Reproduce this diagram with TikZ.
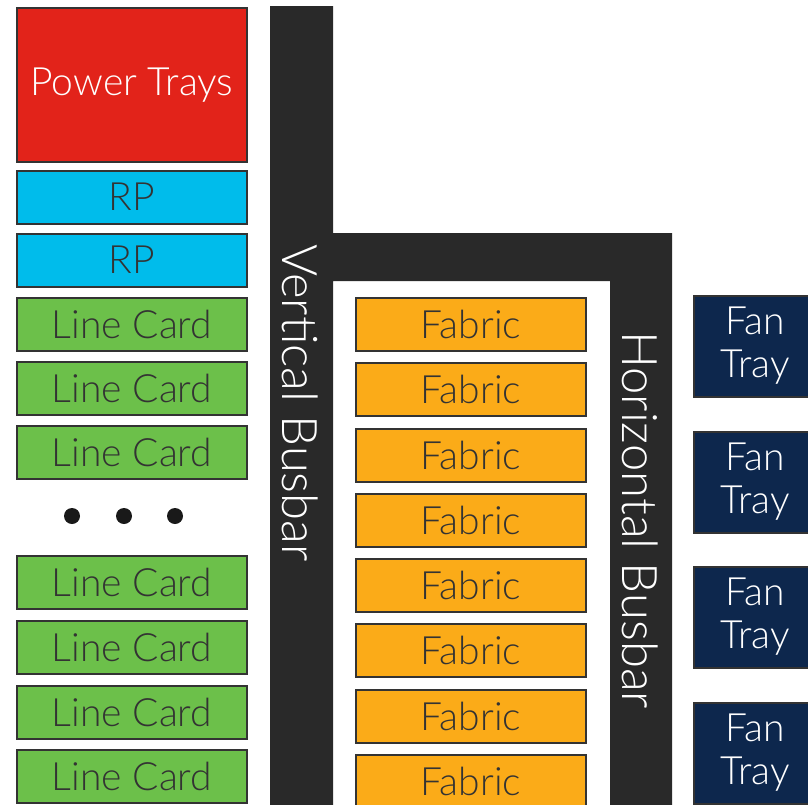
\documentclass[tikz,border=0pt]{standalone}
\usepackage{fontspec}
\setmainfont{Lato Light}
\definecolor{pwrred}{HTML}{E2231A}
\definecolor{rpblue}{HTML}{00BCEB}
\definecolor{lcgreen}{HTML}{6CC04A}
\definecolor{fabyellow}{HTML}{FBAB18}
\definecolor{fannavy}{HTML}{0D274D}
\definecolor{busgray}{HTML}{292929}
\definecolor{edgegray}{HTML}{333333}
\begin{document}
\begin{tikzpicture}[x=1pt,y=-1pt,
    card/.style={draw=edgegray,line width=2pt,minimum width=230pt,minimum height=53pt,inner sep=0pt,
        font=\fontsize{39}{42}\selectfont,text=edgegray},
    fan/.style={card,fill=fannavy,text=white,minimum width=122pt,minimum height=101pt,align=center,
        font=\fontsize{39}{43}\selectfont},
    bus/.style={rotate=-90,text=white,inner sep=0pt,font=\fontsize{49}{52}\selectfont}]
        \useasboundingbox (0,0) rectangle (808,804);
        % busbars
        \fill[busgray] (270,6)--(333,6)--(333,233)--(672,233)--(672,810)--(610,810)--(610,281)--(333,281)--(333,810)--(270,810)--cycle;
        \node[bus] (vbus) at (300,403) {Vertical Busbar};
        \node[bus] (hbus) at (640,520) {Horizontal Busbar};
        % left column
        \node[card,fill=pwrred,text=white,minimum height=154pt] (pwr) at (132,85) {Power Trays};
        \node[card,fill=rpblue] (rp1) at (132,197) {RP};
        \node[card,fill=rpblue] (rp2) at (132,260) {RP};
        \foreach \y [count=\i] in {324,388,452,582,647,712,776}
            \node[card,fill=lcgreen] (lc\i) at (132,\y) {Line Card};
        \foreach \x [count=\i] in {72,124,175}
            \fill[black!90] (\x,516) circle (8) coordinate (dot\i);
        % fabrics
        \foreach \y [count=\i] in {324,389,455,520,585,650,716,781}
            \node[card,fill=fabyellow] (fab\i) at (471,\y) {Fabric};
        % fan trays
        \foreach \y [count=\i] in {346,482,617,753}
            \node[fan,text depth=8pt] (fan\i) at (755,\y) {Fan\\Tray};
\end{tikzpicture}
\end{document}
